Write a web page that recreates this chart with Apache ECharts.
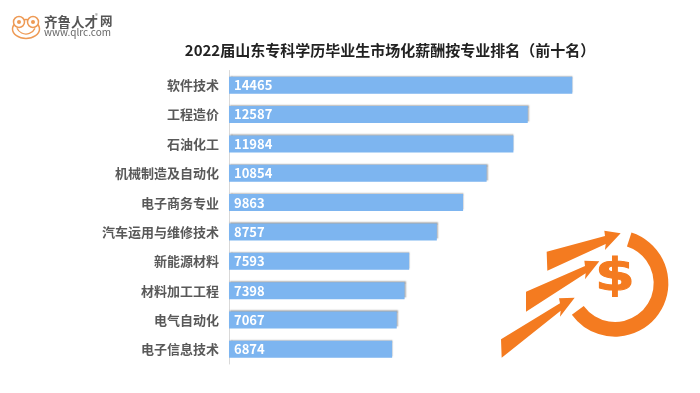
<!DOCTYPE html>
<html lang="zh">
<head>
<meta charset="UTF-8">
<title>专业排名</title>
<script src="https://cdn.jsdelivr.net/npm/echarts@6/dist/echarts.min.js"></script>
<style>
html, body { margin: 0; background: #fff; }
#main { width: 700px; height: 393px; }
</style>
</head>
<body>
<div id="main"></div>
<script>
var majors = ['软件技术', '工程造价', '石油化工', '机械制造及自动化', '电子商务专业', '汽车运用与维修技术', '新能源材料', '材料加工工程', '电气自动化', '电子信息技术'];
var salaries = [14465, 12587, 11984, 10854, 9863, 8757, 7593, 7398, 7067, 6874];

var font = '"Noto Sans CJK SC", sans-serif';
var orange = '#f47b20';
var frog = '#ee9a55';

var myChart = echarts.init(document.getElementById('main'));

function frogStroke(shapeType, shape) {
    return { type: shapeType, shape: shape, style: { fill: '#fff', stroke: frog, lineWidth: 1.5 } };
}

var option = {
    animation: false,
    backgroundColor: '#fff',
    title: {
        text: '2022届山东专科学历毕业生市场化薪酬按专业排名（前十名）',
        left: 385,
        top: 38,
        textAlign: 'center',
        textStyle: { color: '#222', fontSize: 15, fontWeight: 'bold', fontFamily: font }
    },
    grid: { left: 229, top: 70.5, width: 356, height: 293.5 },
    xAxis: { type: 'value', min: 0, max: 15000, show: false },
    yAxis: {
        type: 'category',
        inverse: true,
        data: majors,
        axisLine: { lineStyle: { color: '#d9d9d9' } },
        axisTick: { show: false },
        axisLabel: { color: '#595959', fontSize: 13, fontWeight: 'bold', fontFamily: font, margin: 10 }
    },
    series: [{
        type: 'bar',
        data: salaries,
        barWidth: 17,
        itemStyle: {
            color: '#7db5f0',
            shadowColor: 'rgba(90,90,90,0.55)',
            shadowBlur: 1.5,
            shadowOffsetX: 1,
            shadowOffsetY: -1
        },
        label: {
            show: true,
            position: 'insideLeft',
            distance: 5,
            color: '#fff',
            fontSize: 13,
            fontWeight: 'bold',
            fontFamily: font
        }
    }],
    graphic: [
        // logo
        frogStroke('ellipse', { cx: 26, cy: 29, rx: 13.5, ry: 9.5 }),
        frogStroke('circle', { cx: 19, cy: 22, r: 5.5 }),
        frogStroke('circle', { cx: 33, cy: 22, r: 5.5 }),
        { type: 'circle', shape: { cx: 19, cy: 22, r: 2 }, style: { fill: frog } },
        { type: 'circle', shape: { cx: 33, cy: 22, r: 2 }, style: { fill: frog } },
        { type: 'arc', shape: { cx: 26, cy: 24, r: 10, startAngle: 0.45, endAngle: 2.7 }, style: { fill: 'none', stroke: frog, lineWidth: 1.3 } },
        { type: 'text', x: 44, y: 15, style: { text: '齐鲁人才', fill: '#555', font: 'bold 13.5px ' + font } },
        { type: 'text', x: 95, y: 13, style: { text: '®', fill: '#777', font: '6px ' + font } },
        { type: 'text', x: 100, y: 15, style: { text: '网', fill: '#555', font: 'bold 12.5px ' + font } },
        { type: 'text', x: 44, y: 27, style: { text: 'www.qlrc.com', fill: '#666', font: '10px ' + font } },
        // arrows and coin, traced in a 3x crop
        {
            type: 'group',
            x: 490,
            y: 220,
            scaleX: 1 / 3,
            scaleY: 1 / 3,
            children: [
                { type: 'polygon', shape: { points: [[170, 95], [345, 48], [343, 32], [392, 40], [345, 90], [347, 72], [172, 152]] }, style: { fill: orange } },
                { type: 'polygon', shape: { points: [[108, 215], [285, 138], [283, 122], [328, 124], [285, 178], [287, 160], [108, 275]] }, style: { fill: orange } },
                { type: 'polygon', shape: { points: [[33, 358], [210, 250], [207, 235], [254, 233], [210, 290], [212, 272], [35, 413]] }, style: { fill: orange } },
                { type: 'sector', shape: { cx: 375, cy: 190, r: 160, r0: 116, startAngle: -72 * Math.PI / 180, endAngle: 144 * Math.PI / 180, clockwise: true }, style: { fill: orange } }
            ]
        },
        {
            type: 'group',
            x: 615,
            y: 279,
            scaleX: 1.3,
            children: [
                { type: 'text', x: 0, y: 0, style: { text: '$', fill: orange, stroke: orange, lineWidth: 1, font: 'bold 44px "DejaVu Sans"', textAlign: 'center', textVerticalAlign: 'middle' } }
            ]
        }
    ]
};
myChart.setOption(option);
</script>
</body>
</html>
